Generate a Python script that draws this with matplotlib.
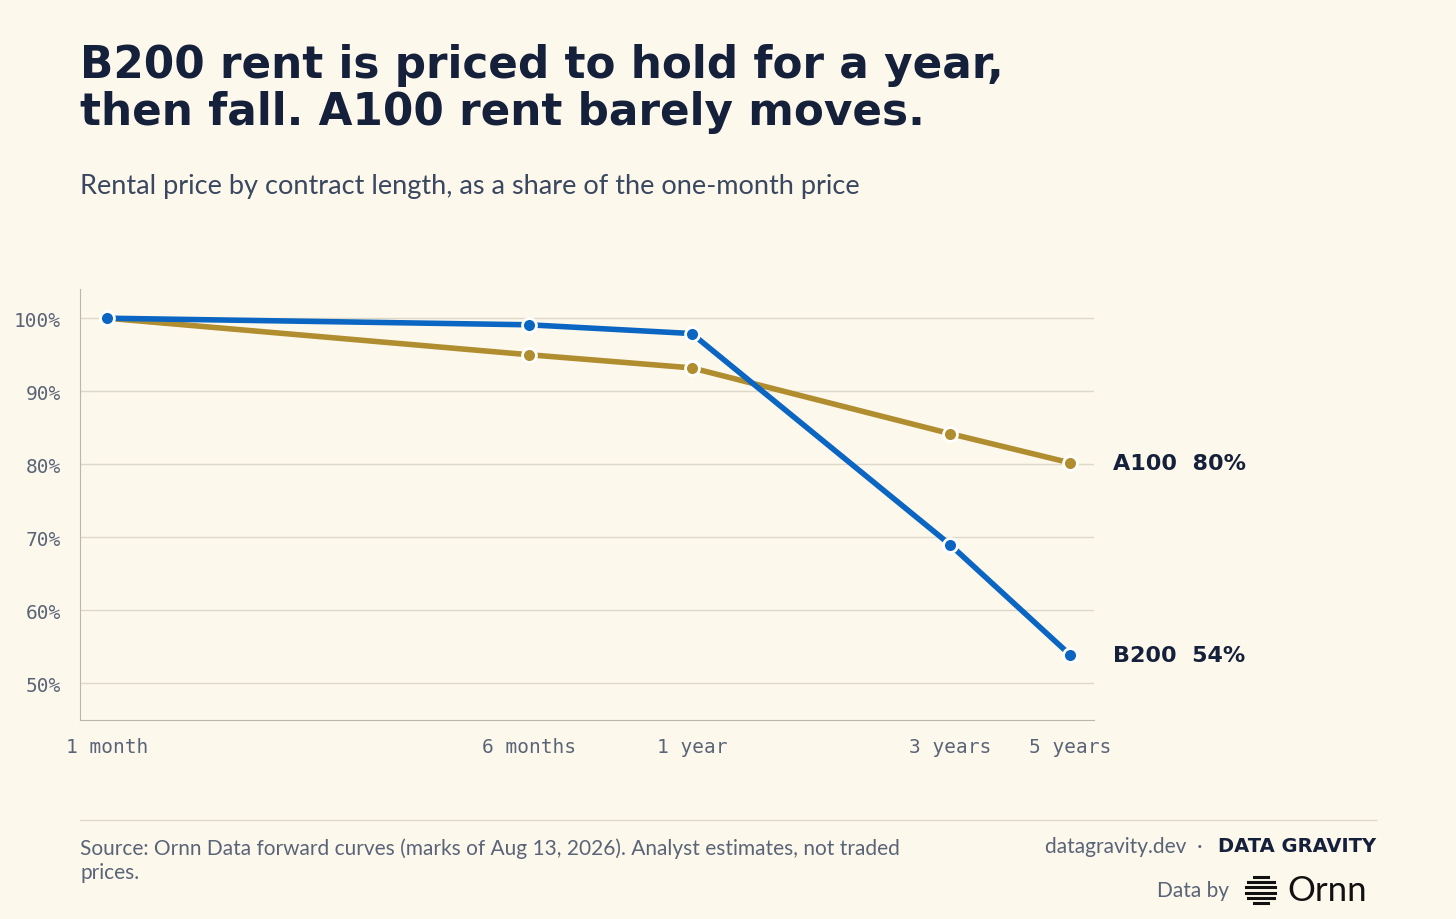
import matplotlib
matplotlib.use('Agg')
import matplotlib.pyplot as plt
from matplotlib.lines import Line2D

BG = '#fdf8ec'
NAVY = '#15203a'
GREY = '#5a6478'
BLUE = '#0a66c2'
GOLD = '#b08d2e'

months = [1, 6, 12, 36, 60]
tick_labels = ['1 month', '6 months', '1 year', '3 years', '5 years']
b200 = [100, 99.1, 97.9, 69.0, 53.9]
a100 = [100, 95.0, 93.2, 84.2, 80.2]

fig = plt.figure(figsize=(14.56, 9.2), dpi=100, facecolor=BG)
ax = fig.add_axes([0.055, 0.2163, 0.6964, 0.4685], facecolor=BG)

ax.set_xscale('log')
ax.set_xlim(0.89, 66.4)
ax.set_ylim(45, 104)
ax.set_yticks([50, 60, 70, 80, 90, 100])
ax.set_yticklabels([f'{v}%' for v in [50, 60, 70, 80, 90, 100]],
                   family='DejaVu Sans Mono', fontsize=14, color=GREY)
ax.set_xticks(months)
ax.set_xticklabels(tick_labels, family='DejaVu Sans Mono', fontsize=14, color=GREY)
ax.minorticks_off()
ax.tick_params(length=0, pad=12)
ax.tick_params(axis='y', pad=14)
ax.grid(axis='y', color='#ddd9c8', lw=1)
for sp in ('top', 'right'):
    ax.spines[sp].set_visible(False)
for sp in ('left', 'bottom'):
    ax.spines[sp].set_color('#b8b8b0')

for vals, col in ((a100, GOLD), (b200, BLUE)):
    ax.plot(months, vals, color=col, lw=4, marker='o', ms=10,
            markeredgecolor='white', markeredgewidth=2, zorder=3, clip_on=False)

ax.text(72, a100[-1], 'A100  80%', fontsize=16, fontweight='bold', color=NAVY,
        va='center', ha='left')
ax.text(72, b200[-1], 'B200  54%', fontsize=16, fontweight='bold', color=NAVY,
        va='center', ha='left')

fig.text(0.055, 0.952, 'B200 rent is priced to hold for a year,\nthen fall. A100 rent barely moves.',
         fontsize=31.5, fontweight='bold', color=NAVY, va='top', linespacing=1.12)
fig.text(0.055, 0.797, 'Rental price by contract length, as a share of the one-month price',
         family='Lato', fontsize=19.5, color='#3a4760', va='center')

fig.add_artist(Line2D([0.055, 0.945], [0.108, 0.108], color='#ddd9c8', lw=1))
fig.text(0.055, 0.064, 'Source: Ornn Data forward curves (marks of Aug 13, 2026). Analyst estimates, not traded\nprices.',
         family='Lato', fontsize=15, color=GREY, va='center', linespacing=1.25)
fig.text(0.826, 0.079, 'datagravity.dev  ·', family='Lato', fontsize=15, color=GREY,
         ha='right', va='center')
fig.text(0.945, 0.080, 'DATA GRAVITY', family='DejaVu Sans', fontsize=14, fontweight='bold',
         color=NAVY, ha='right', va='center')
fig.text(0.844, 0.031, 'Data by', family='Lato', fontsize=15, color=GREY, ha='right', va='center')
fig.text(0.884, 0.031, 'Ornn', family='Lato', fontsize=25, color='#111111', ha='left', va='center')
for i, w in enumerate([0.010, 0.018, 0.020, 0.020, 0.018, 0.010]):
    y = 0.046 - i * 0.0058
    fig.add_artist(Line2D([0.866 - w / 2, 0.866 + w / 2], [y, y], color='#111111', lw=2.2))

fig.savefig('out.png', dpi=100, facecolor=BG)
